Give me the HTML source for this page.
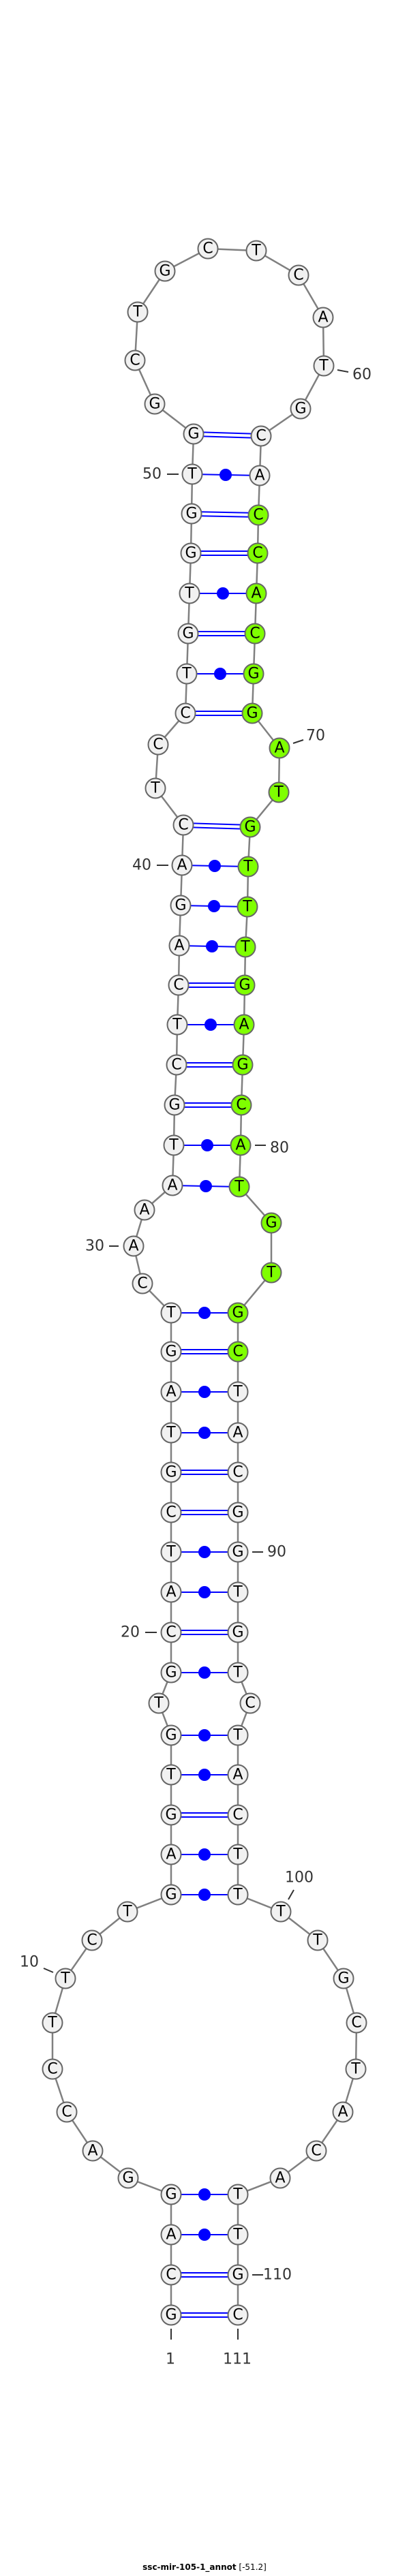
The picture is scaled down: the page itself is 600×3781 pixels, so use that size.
<!DOCTYPE html>
<html><head><meta charset="utf-8"><style>
html,body{margin:0;padding:0;background:#fff;}
svg{display:block}
.n{fill:#f1f1f1;stroke:#666;stroke-width:2}
.g{fill:#7fff00;stroke:#666;stroke-width:2}
.t{font-family:"DejaVu Sans","Liberation Sans",sans-serif;font-size:22px;text-anchor:middle;dominant-baseline:central;fill:#000}
.l{font-family:"DejaVu Sans","Liberation Sans",sans-serif;font-size:22px;fill:#333;dominant-baseline:central}
.p{stroke:#00f;stroke-width:2}
.k{stroke:#333;stroke-width:2}
</style></head><body>
<svg width="600" height="3781" viewBox="0 0 600 3781" xmlns="http://www.w3.org/2000/svg">
<polyline fill="none" stroke="#808080" stroke-width="2.5" points="251,3398 251,3339 251,3280 251,3221 188,3197 136,3157 98,3100 77,3037 77,2969 96,2904 135,2848 187,2806 251,2781 251,2722 251,2664 251,2605 251,2547 233,2500 251,2455 251,2396 251,2337 251,2278 251,2220 251,2161 251,2103 251,2043 251,1984 251,1927 209,1884 196,1829 212,1776 253,1740 255,1681 256,1622 259,1563 260,1504 262,1446 263,1388 265,1329 267,1270 269,1211 228,1157 232,1093 272,1047 274,989 276,930 278,871 280,812 281,754 282,696 284,637 227,593 198,529 202,458 242,398 305,365 376,368 438,404 474,466 475,537 441,600 383,640 381,698 379,756 378,812 376,871 374,930 372,989 370,1047 410,1098 409,1163 367,1214 364,1272 363,1331 360,1390 359,1446 358,1504 356,1563 354,1622 353,1681 351,1742 398,1795 398,1868 349,1927 349,1984 349,2043 349,2103 349,2161 349,2220 349,2278 349,2337 349,2396 349,2455 367,2500 349,2547 349,2605 349,2664 349,2722 349,2781 412,2806 466,2848 504,2904 523,2969 522,3037 503,3100 464,3157 411,3197 349,3221 349,3280 349,3339 349,3398"/>
<g class="p">
<line x1="284" y1="634" x2="383" y2="637"/><line x1="284" y1="640" x2="383" y2="643"/>
<line x1="282" y1="696" x2="381" y2="698"/>
<line x1="281" y1="751" x2="379" y2="753"/><line x1="281" y1="757" x2="379" y2="759"/>
<line x1="280" y1="809" x2="378" y2="809"/><line x1="280" y1="815" x2="378" y2="815"/>
<line x1="278" y1="871" x2="376" y2="871"/>
<line x1="276" y1="927" x2="374" y2="927"/><line x1="276" y1="933" x2="374" y2="933"/>
<line x1="274" y1="989" x2="372" y2="989"/>
<line x1="272" y1="1044" x2="370" y2="1044"/><line x1="272" y1="1050" x2="370" y2="1050"/>
<line x1="269" y1="1208" x2="367" y2="1211"/><line x1="269" y1="1214" x2="367" y2="1217"/>
<line x1="267" y1="1270" x2="364" y2="1272"/>
<line x1="265" y1="1329" x2="363" y2="1331"/>
<line x1="263" y1="1388" x2="360" y2="1390"/>
<line x1="262" y1="1443" x2="359" y2="1443"/><line x1="262" y1="1449" x2="359" y2="1449"/>
<line x1="260" y1="1504" x2="358" y2="1504"/>
<line x1="259" y1="1560" x2="356" y2="1560"/><line x1="259" y1="1566" x2="356" y2="1566"/>
<line x1="256" y1="1619" x2="354" y2="1619"/><line x1="256" y1="1625" x2="354" y2="1625"/>
<line x1="255" y1="1681" x2="353" y2="1681"/>
<line x1="253" y1="1740" x2="351" y2="1742"/>
<line x1="251" y1="1927" x2="349" y2="1927"/>
<line x1="251" y1="1981" x2="349" y2="1981"/><line x1="251" y1="1987" x2="349" y2="1987"/>
<line x1="251" y1="2043" x2="349" y2="2043"/>
<line x1="251" y1="2103" x2="349" y2="2103"/>
<line x1="251" y1="2158" x2="349" y2="2158"/><line x1="251" y1="2164" x2="349" y2="2164"/>
<line x1="251" y1="2217" x2="349" y2="2217"/><line x1="251" y1="2223" x2="349" y2="2223"/>
<line x1="251" y1="2278" x2="349" y2="2278"/>
<line x1="251" y1="2337" x2="349" y2="2337"/>
<line x1="251" y1="2393" x2="349" y2="2393"/><line x1="251" y1="2399" x2="349" y2="2399"/>
<line x1="251" y1="2455" x2="349" y2="2455"/>
<line x1="251" y1="2547" x2="349" y2="2547"/>
<line x1="251" y1="2605" x2="349" y2="2605"/>
<line x1="251" y1="2661" x2="349" y2="2661"/><line x1="251" y1="2667" x2="349" y2="2667"/>
<line x1="251" y1="2722" x2="349" y2="2722"/>
<line x1="251" y1="2781" x2="349" y2="2781"/>
<line x1="251" y1="3221" x2="349" y2="3221"/>
<line x1="251" y1="3280" x2="349" y2="3280"/>
<line x1="251" y1="3336" x2="349" y2="3336"/><line x1="251" y1="3342" x2="349" y2="3342"/>
<line x1="251" y1="3395" x2="349" y2="3395"/><line x1="251" y1="3401" x2="349" y2="3401"/>
</g>
<g fill="#00f">
<circle cx="331" cy="697" r="9"/><circle cx="327" cy="871" r="9"/><circle cx="323" cy="989" r="9"/>
<circle cx="315" cy="1271" r="9"/><circle cx="314" cy="1330" r="9"/><circle cx="311" cy="1389" r="9"/>
<circle cx="309" cy="1504" r="9"/><circle cx="304" cy="1681" r="9"/><circle cx="302" cy="1741" r="9"/>
<circle cx="300" cy="1927" r="9"/><circle cx="300" cy="2043" r="9"/><circle cx="300" cy="2103" r="9"/>
<circle cx="300" cy="2278" r="9"/><circle cx="300" cy="2337" r="9"/><circle cx="300" cy="2455" r="9"/>
<circle cx="300" cy="2547" r="9"/><circle cx="300" cy="2605" r="9"/><circle cx="300" cy="2722" r="9"/>
<circle cx="300" cy="2781" r="9"/><circle cx="300" cy="3221" r="9"/><circle cx="300" cy="3280" r="9"/>
</g>
<g class="n">
<circle cx="251" cy="3398" r="14.5"/><circle cx="251" cy="3339" r="14.5"/><circle cx="251" cy="3280" r="14.5"/><circle cx="251" cy="3221" r="14.5"/>
<circle cx="188" cy="3197" r="14.5"/><circle cx="136" cy="3157" r="14.5"/><circle cx="98" cy="3100" r="14.5"/><circle cx="77" cy="3037" r="14.5"/>
<circle cx="77" cy="2969" r="14.5"/><circle cx="96" cy="2904" r="14.5"/><circle cx="135" cy="2848" r="14.5"/><circle cx="187" cy="2806" r="14.5"/>
<circle cx="251" cy="2781" r="14.5"/><circle cx="251" cy="2722" r="14.5"/><circle cx="251" cy="2664" r="14.5"/><circle cx="251" cy="2605" r="14.5"/>
<circle cx="251" cy="2547" r="14.5"/><circle cx="233" cy="2500" r="14.5"/><circle cx="251" cy="2455" r="14.5"/><circle cx="251" cy="2396" r="14.5"/>
<circle cx="251" cy="2337" r="14.5"/><circle cx="251" cy="2278" r="14.5"/><circle cx="251" cy="2220" r="14.5"/><circle cx="251" cy="2161" r="14.5"/>
<circle cx="251" cy="2103" r="14.5"/><circle cx="251" cy="2043" r="14.5"/><circle cx="251" cy="1984" r="14.5"/><circle cx="251" cy="1927" r="14.5"/>
<circle cx="209" cy="1884" r="14.5"/><circle cx="196" cy="1829" r="14.5"/><circle cx="212" cy="1776" r="14.5"/><circle cx="253" cy="1740" r="14.5"/>
<circle cx="255" cy="1681" r="14.5"/><circle cx="256" cy="1622" r="14.5"/><circle cx="259" cy="1563" r="14.5"/><circle cx="260" cy="1504" r="14.5"/>
<circle cx="262" cy="1446" r="14.5"/><circle cx="263" cy="1388" r="14.5"/><circle cx="265" cy="1329" r="14.5"/><circle cx="267" cy="1270" r="14.5"/>
<circle cx="269" cy="1211" r="14.5"/><circle cx="228" cy="1157" r="14.5"/><circle cx="232" cy="1093" r="14.5"/><circle cx="272" cy="1047" r="14.5"/>
<circle cx="274" cy="989" r="14.5"/><circle cx="276" cy="930" r="14.5"/><circle cx="278" cy="871" r="14.5"/><circle cx="280" cy="812" r="14.5"/>
<circle cx="281" cy="754" r="14.5"/><circle cx="282" cy="696" r="14.5"/><circle cx="284" cy="637" r="14.5"/><circle cx="227" cy="593" r="14.5"/>
<circle cx="198" cy="529" r="14.5"/><circle cx="202" cy="458" r="14.5"/><circle cx="242" cy="398" r="14.5"/><circle cx="305" cy="365" r="14.5"/>
<circle cx="376" cy="368" r="14.5"/><circle cx="438" cy="404" r="14.5"/><circle cx="474" cy="466" r="14.5"/><circle cx="475" cy="537" r="14.5"/>
<circle cx="441" cy="600" r="14.5"/><circle cx="383" cy="640" r="14.5"/><circle cx="381" cy="698" r="14.5"/>
<circle cx="349" cy="2043" r="14.5"/><circle cx="349" cy="2103" r="14.5"/><circle cx="349" cy="2161" r="14.5"/><circle cx="349" cy="2220" r="14.5"/>
<circle cx="349" cy="2278" r="14.5"/><circle cx="349" cy="2337" r="14.5"/><circle cx="349" cy="2396" r="14.5"/><circle cx="349" cy="2455" r="14.5"/>
<circle cx="367" cy="2500" r="14.5"/><circle cx="349" cy="2547" r="14.5"/><circle cx="349" cy="2605" r="14.5"/><circle cx="349" cy="2664" r="14.5"/>
<circle cx="349" cy="2722" r="14.5"/><circle cx="349" cy="2781" r="14.5"/><circle cx="412" cy="2806" r="14.5"/><circle cx="466" cy="2848" r="14.5"/>
<circle cx="504" cy="2904" r="14.5"/><circle cx="523" cy="2969" r="14.5"/><circle cx="522" cy="3037" r="14.5"/><circle cx="503" cy="3100" r="14.5"/>
<circle cx="464" cy="3157" r="14.5"/><circle cx="411" cy="3197" r="14.5"/><circle cx="349" cy="3221" r="14.5"/><circle cx="349" cy="3280" r="14.5"/>
<circle cx="349" cy="3339" r="14.5"/><circle cx="349" cy="3398" r="14.5"/>
</g>
<g class="g">
<circle cx="379" cy="756" r="14.5"/><circle cx="378" cy="812" r="14.5"/><circle cx="376" cy="871" r="14.5"/><circle cx="374" cy="930" r="14.5"/>
<circle cx="372" cy="989" r="14.5"/><circle cx="370" cy="1047" r="14.5"/><circle cx="410" cy="1098" r="14.5"/><circle cx="409" cy="1163" r="14.5"/>
<circle cx="367" cy="1214" r="14.5"/><circle cx="364" cy="1272" r="14.5"/><circle cx="363" cy="1331" r="14.5"/><circle cx="360" cy="1390" r="14.5"/>
<circle cx="359" cy="1446" r="14.5"/><circle cx="358" cy="1504" r="14.5"/><circle cx="356" cy="1563" r="14.5"/><circle cx="354" cy="1622" r="14.5"/>
<circle cx="353" cy="1681" r="14.5"/><circle cx="351" cy="1742" r="14.5"/><circle cx="398" cy="1795" r="14.5"/><circle cx="398" cy="1868" r="14.5"/>
<circle cx="349" cy="1927" r="14.5"/><circle cx="349" cy="1984" r="14.5"/>
</g>
<g class="t">
<text x="251" y="3398">G</text><text x="251" y="3339">C</text><text x="251" y="3280">A</text><text x="251" y="3221">G</text>
<text x="188" y="3197">G</text><text x="136" y="3157">A</text><text x="98" y="3100">C</text><text x="77" y="3037">C</text>
<text x="77" y="2969">T</text><text x="96" y="2904">T</text><text x="135" y="2848">C</text><text x="187" y="2806">T</text>
<text x="251" y="2781">G</text><text x="251" y="2722">A</text><text x="251" y="2664">G</text><text x="251" y="2605">T</text>
<text x="251" y="2547">G</text><text x="233" y="2500">T</text><text x="251" y="2455">G</text><text x="251" y="2396">C</text>
<text x="251" y="2337">A</text><text x="251" y="2278">T</text><text x="251" y="2220">C</text><text x="251" y="2161">G</text>
<text x="251" y="2103">T</text><text x="251" y="2043">A</text><text x="251" y="1984">G</text><text x="251" y="1927">T</text>
<text x="209" y="1884">C</text><text x="196" y="1829">A</text><text x="212" y="1776">A</text><text x="253" y="1740">A</text>
<text x="255" y="1681">T</text><text x="256" y="1622">G</text><text x="259" y="1563">C</text><text x="260" y="1504">T</text>
<text x="262" y="1446">C</text><text x="263" y="1388">A</text><text x="265" y="1329">G</text><text x="267" y="1270">A</text>
<text x="269" y="1211">C</text><text x="228" y="1157">T</text><text x="232" y="1093">C</text><text x="272" y="1047">C</text>
<text x="274" y="989">T</text><text x="276" y="930">G</text><text x="278" y="871">T</text><text x="280" y="812">G</text>
<text x="281" y="754">G</text><text x="282" y="696">T</text><text x="284" y="637">G</text><text x="227" y="593">G</text>
<text x="198" y="529">C</text><text x="202" y="458">T</text><text x="242" y="398">G</text><text x="305" y="365">C</text>
<text x="376" y="368">T</text><text x="438" y="404">C</text><text x="474" y="466">A</text><text x="475" y="537">T</text>
<text x="441" y="600">G</text><text x="383" y="640">C</text><text x="381" y="698">A</text>
<text x="379" y="756">C</text><text x="378" y="812">C</text><text x="376" y="871">A</text><text x="374" y="930">C</text>
<text x="372" y="989">G</text><text x="370" y="1047">G</text><text x="410" y="1098">A</text><text x="409" y="1163">T</text>
<text x="367" y="1214">G</text><text x="364" y="1272">T</text><text x="363" y="1331">T</text><text x="360" y="1390">T</text>
<text x="359" y="1446">G</text><text x="358" y="1504">A</text><text x="356" y="1563">G</text><text x="354" y="1622">C</text>
<text x="353" y="1681">A</text><text x="351" y="1742">T</text><text x="398" y="1795">G</text><text x="398" y="1868">T</text>
<text x="349" y="1927">G</text><text x="349" y="1984">C</text>
<text x="349" y="2043">T</text><text x="349" y="2103">A</text><text x="349" y="2161">C</text><text x="349" y="2220">G</text>
<text x="349" y="2278">G</text><text x="349" y="2337">T</text><text x="349" y="2396">G</text><text x="349" y="2455">T</text>
<text x="367" y="2500">C</text><text x="349" y="2547">T</text><text x="349" y="2605">A</text><text x="349" y="2664">C</text>
<text x="349" y="2722">T</text><text x="349" y="2781">T</text><text x="412" y="2806">T</text><text x="466" y="2848">T</text>
<text x="504" y="2904">G</text><text x="523" y="2969">C</text><text x="522" y="3037">T</text><text x="503" y="3100">A</text>
<text x="464" y="3157">C</text><text x="411" y="3197">A</text><text x="349" y="3221">T</text><text x="349" y="3280">T</text>
<text x="349" y="3339">G</text><text x="349" y="3398">C</text>
</g>
<g class="k">
<line x1="64" y1="2889" x2="78" y2="2895"/>
<line x1="213" y1="2396" x2="230" y2="2396"/>
<line x1="160" y1="1829" x2="174" y2="1829"/>
<line x1="230" y1="1270" x2="247" y2="1270"/>
<line x1="245" y1="696" x2="262" y2="696"/>
<line x1="495" y1="543" x2="511" y2="546"/>
<line x1="430" y1="1091" x2="445" y2="1086"/>
<line x1="374" y1="1681" x2="390" y2="1681"/>
<line x1="370" y1="2278" x2="386" y2="2278"/>
<line x1="423" y1="2788" x2="431" y2="2774"/>
<line x1="370" y1="3339" x2="386" y2="3339"/>
<line x1="251" y1="3418" x2="251" y2="3434"/>
<line x1="349" y1="3418" x2="349" y2="3434"/>
</g>
<g class="l">
<text x="29" y="2880">10</text>
<text x="177" y="2396">20</text>
<text x="125" y="1829">30</text>
<text x="194" y="1270">40</text>
<text x="209" y="696">50</text>
<text x="517" y="550">60</text>
<text x="449" y="1080">70</text>
<text x="396" y="1685">80</text>
<text x="392" y="2278">90</text>
<text x="418" y="2756">100</text>
<text x="386" y="3339">110</text>
<text x="250" y="3463" text-anchor="middle">1</text>
<text x="348" y="3463" text-anchor="middle">111</text>
</g>
<text x="300" y="3772" text-anchor="middle" font-family="DejaVu Sans, Liberation Sans, sans-serif" font-size="12" fill="#000"><tspan font-weight="bold">ssc-mir-105-1_annot</tspan> [-51.2]</text>
</svg>
</body></html>
